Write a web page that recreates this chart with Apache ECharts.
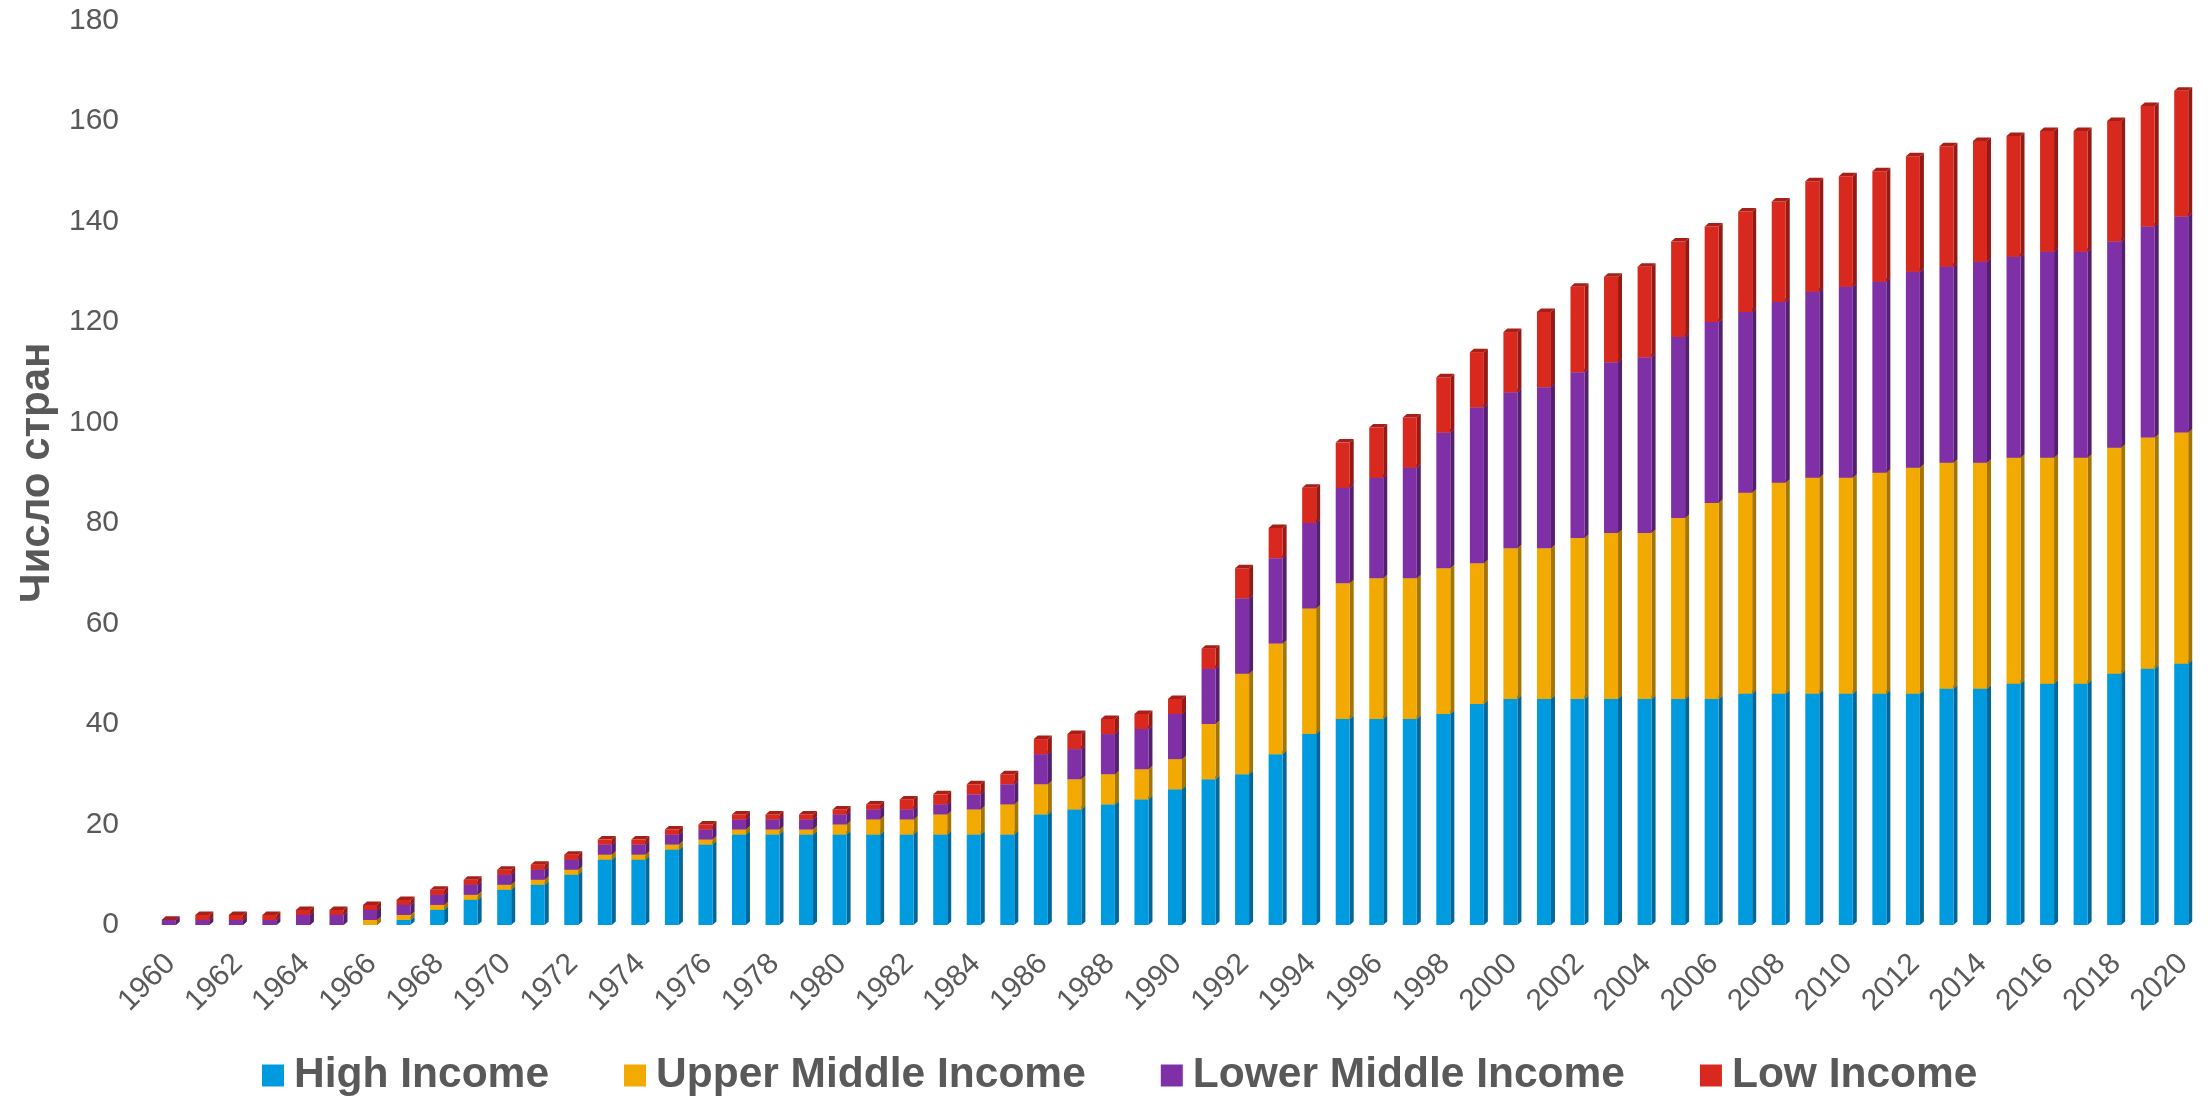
<!DOCTYPE html>
<html>
<head>
<meta charset="utf-8">
<script src="https://cdn.jsdelivr.net/npm/echarts@6/dist/echarts.min.js"></script>
<style>
  html, body { margin: 0; padding: 0; background: #ffffff; }
  #chart { width: 2208px; height: 1096px; }
</style>
</head>
<body>
<div id="chart"></div>
<script>
const years = ['1960','1961','1962','1963','1964','1965','1966','1967','1968','1969',
  '1970','1971','1972','1973','1974','1975','1976','1977','1978','1979',
  '1980','1981','1982','1983','1984','1985','1986','1987','1988','1989',
  '1990','1991','1992','1993','1994','1995','1996','1997','1998','1999',
  '2000','2001','2002','2003','2004','2005','2006','2007','2008','2009',
  '2010','2011','2012','2013','2014','2015','2016','2017','2018','2019','2020'];

const highIncome = [0,0,0,0,0,0,0,1,3,5, 7,8,10,13,13,15,16,18,18,18,
  18,18,18,18,18,18,22,23,24,25, 27,29,30,34,38,41,41,41,42,44,
  45,45,45,45,45,45,45,46,46,46, 46,46,46,47,47,48,48,48,50,51,52];

const upperMiddle = [0,0,0,0,0,0,1,1,1,1, 1,1,1,1,1,1,1,1,1,1,
  2,3,3,4,5,6,6,6,6,6, 6,11,20,22,25,27,28,28,29,28,
  30,30,32,33,33,36,39,40,42,43, 43,44,45,45,45,45,45,45,45,46,46];

const lowerMiddle = [1,1,1,1,2,2,2,2,2,2, 2,2,2,2,2,2,2,2,2,2,
  2,2,2,2,3,4,6,6,8,8, 9,11,15,17,17,19,20,22,27,31,
  31,32,33,34,35,36,36,36,36,37, 38,38,39,39,40,40,41,41,41,42,43];

const lowIncome = [0,1,1,1,1,1,1,1,1,1, 1,1,1,1,1,1,1,1,1,1,
  1,1,2,2,2,2,3,3,3,3, 3,4,6,6,7,9,10,10,11,11,
  12,15,17,17,18,19,19,20,20,22, 22,22,23,24,24,24,24,24,24,24,25];

const seriesNames = ['High Income','Upper Middle Income','Lower Middle Income','Low Income'];
const seriesValues = [highIncome, upperMiddle, lowerMiddle, lowIncome];
const yTicks = { min: 0, max: 180, interval: 20 };

const palette = [
  { front: '#009BDE', side: '#00679A', top: '#0084BE' },
  { front: '#F2A900', side: '#A67400', top: '#CF9000' },
  { front: '#7F30A6', side: '#541F6E', top: '#6A288B' },
  { front: '#D9281E', side: '#961A14', top: '#A81F18' }
];

const FONT = "'Liberation Sans', Arial, sans-serif";
const TXT = '#595959';

// cumulative stacks
const cum = years.map(() => 0);
const stackedData = seriesValues.map(vals => vals.map((v, i) => {
  const b = cum[i];
  cum[i] = b + v;
  return [i, b, b + v];
}));

function makeRender(idx) {
  const c = palette[idx];
  return function (params, api) {
    const i = api.value(0);
    const pb = api.coord([i, api.value(1)]);
    const pt = api.coord([i, api.value(2)]);
    const cx = pb[0];
    const x0 = cx - 9, x1 = cx + 5, dx = 4, dy = 3.5;
    const yb = pb[1], yt = pt[1];
    return {
      type: 'group',
      children: [
        { type: 'polygon', shape: { points: [[x1, yb], [x1 + dx, yb - dy], [x1 + dx, yt - dy], [x1, yt]] }, style: { fill: c.side } },
        { type: 'rect', shape: { x: x0, y: yt, width: x1 - x0, height: yb - yt }, style: { fill: c.front } },
        { type: 'polygon', shape: { points: [[x0, yt], [x1, yt], [x1 + dx, yt - dy], [x0 + dx, yt - dy]] }, style: { fill: c.top } }
      ]
    };
  };
}

const chart = echarts.init(document.getElementById('chart'), null, { renderer: 'canvas' });
chart.setOption({
  animation: false,
  backgroundColor: '#ffffff',
  textStyle: { fontFamily: FONT },
  grid: { left: 154, right: 8, top: 20.5, bottom: 171, containLabel: false },
  legend: {
    left: 257,
    top: 1049,
    itemWidth: 22,
    itemHeight: 22,
    itemGap: 75,
    icon: 'rect',
    data: seriesNames,
    textStyle: { color: TXT, fontSize: 42.5, fontWeight: 'bold', fontFamily: FONT, padding: [0, 0, 0, 5] }
  },
  xAxis: {
    type: 'category',
    data: years,
    boundaryGap: true,
    axisLine: { show: false },
    axisTick: { show: false },
    splitLine: { show: false },
    axisLabel: { interval: 1, rotate: 45, margin: 34, color: TXT, fontSize: 30, fontFamily: FONT }
  },
  yAxis: {
    type: 'value',
    min: yTicks.min,
    max: yTicks.max,
    interval: yTicks.interval,
    name: 'Число стран',
    nameLocation: 'middle',
    nameGap: 94,
    nameRotate: 90,
    nameTextStyle: { color: TXT, fontSize: 42, fontWeight: 'bold', fontFamily: FONT },
    axisLine: { show: false },
    axisTick: { show: false },
    splitLine: { show: false },
    axisLabel: { margin: 35, color: TXT, fontSize: 30, fontFamily: FONT }
  },
  series: seriesNames.map((name, idx) => ({
    name: name,
    type: 'custom',
    renderItem: makeRender(idx),
    itemStyle: { color: palette[idx].front },
    encode: { x: 0, y: [1, 2] },
    data: stackedData[idx],
    z: 2 + idx
  }))
});
</script>
</body>
</html>
